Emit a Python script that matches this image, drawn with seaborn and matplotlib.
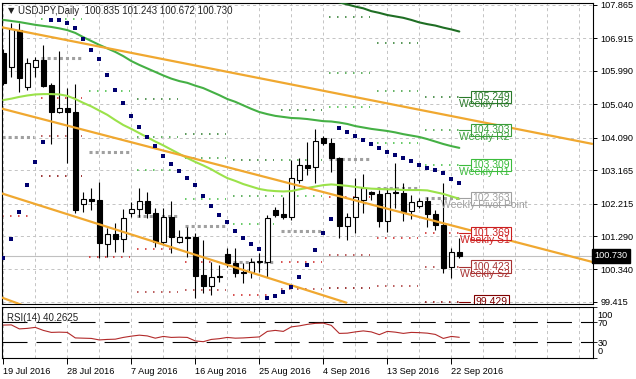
import numpy as np
import pandas as pd
import matplotlib
matplotlib.use("Agg")
import matplotlib.pyplot as plt
import matplotlib.transforms as mtrans
import seaborn as sns

sns.set_theme(style="white")
plt.rcParams['font.family'] = ['Liberation Sans', 'DejaVu Sans']
plt.rcParams['lines.scale_dashes'] = False

# ---------------- data ----------------
date_labels = ["19 Jul 2016", "28 Jul 2016", "7 Aug 2016", "16 Aug 2016",
               "25 Aug 2016", "4 Sep 2016", "13 Sep 2016", "22 Sep 2016"]
price_ticks = [107.865, 106.915, 105.990, 105.040, 104.090,
               103.165, 102.215, 101.290, 100.340, 99.415]

opens = [106.50, 106.11, 107.15, 105.52, 106.11, 106.30, 105.59, 104.83, 104.93, 104.83,
         102.19, 102.34, 102.32, 101.07, 101.35, 101.21, 101.96, 102.05, 102.29, 101.94,
         101.13, 101.82, 101.11, 101.27, 101.26, 100.18, 99.88, 100.16, 100.78, 100.53,
         100.26, 100.28, 100.55, 100.56, 102.03, 101.92, 101.84, 102.89, 103.31, 103.25,
         104.07, 103.93, 103.50, 101.58, 101.82, 102.32, 102.55, 102.48, 101.73, 102.51,
         102.53, 102.00, 102.14, 102.30, 101.92, 101.61, 100.40, 100.835]
highs = [106.60, 107.34, 107.34, 106.35, 106.39, 106.73, 105.65, 106.57, 105.49, 105.62,
         102.55, 102.65, 102.84, 101.51, 101.65, 102.05, 102.27, 102.65, 102.55, 102.08,
         102.08, 102.30, 101.46, 101.56, 101.37, 101.18, 100.56, 100.47, 100.94, 100.94,
         100.52, 100.66, 100.80, 101.89, 102.13, 102.39, 103.45, 103.50, 103.98, 104.33,
         104.13, 104.07, 103.55, 101.94, 102.93, 103.06, 102.56, 102.60, 102.65, 103.36,
         102.79, 102.46, 102.38, 102.41, 102.03, 102.79, 100.94, 101.243]
lows = [105.60, 105.83, 105.40, 105.45, 105.83, 105.54, 103.90, 104.80, 103.36, 101.96,
        101.98, 102.03, 100.66, 100.70, 100.85, 100.85, 101.84, 101.84, 101.80, 100.99,
        101.04, 100.82, 101.08, 100.70, 99.52, 99.66, 99.61, 99.99, 100.42, 100.13,
        99.95, 100.09, 100.28, 100.13, 101.82, 101.77, 101.75, 102.81, 103.03, 102.79,
        103.87, 103.12, 101.23, 101.18, 101.39, 101.96, 102.32, 101.56, 101.41, 102.10,
        101.73, 101.77, 102.10, 101.56, 101.47, 100.23, 100.09, 100.672]
closes = [105.65, 107.17, 105.78, 106.21, 106.30, 105.56, 104.83, 104.93, 104.81, 102.03,
          102.34, 102.30, 101.09, 101.35, 101.20, 101.80, 102.05, 102.29, 101.94, 101.13,
          101.84, 101.26, 101.27, 101.24, 100.16, 99.88, 100.12, 100.13, 100.53, 100.25,
          100.24, 100.56, 100.57, 101.80, 101.89, 101.82, 102.95, 103.31, 103.24, 104.00,
          103.93, 103.50, 101.58, 101.82, 102.40, 102.65, 102.48, 101.73, 102.51, 102.55,
          101.98, 102.27, 102.30, 101.92, 101.61, 100.37, 100.83, 100.730]

ma_slow = [np.nan] * 40 + [108.06, 108.01, 107.94, 107.88, 107.82, 107.77, 107.69, 107.64,
                           107.58, 107.54, 107.50, 107.44, 107.37, 107.32, 107.28, 107.22,
                           107.17, 107.11]
ma_mid = [107.44, 107.41, 107.38, 107.34, 107.30, 107.27, 107.24, 107.20, 107.15, 107.07,
          106.95, 106.84, 106.73, 106.63, 106.53, 106.41, 106.27, 106.16, 106.06, 105.96,
          105.86, 105.77, 105.70, 105.65, 105.57, 105.50, 105.40, 105.30, 105.19, 105.11,
          105.01, 104.91, 104.82, 104.76, 104.71, 104.68, 104.65, 104.64, 104.62, 104.59,
          104.56, 104.55, 104.52, 104.48, 104.42, 104.38, 104.34, 104.31, 104.28, 104.24,
          104.19, 104.15, 104.11, 104.05, 103.98, 103.91, 103.85, 103.80]
ma_fast = [105.16, 105.20, 105.25, 105.29, 105.32, 105.33, 105.33, 105.32, 105.28, 105.19,
           105.08, 104.98, 104.86, 104.74, 104.59, 104.45, 104.34, 104.22, 104.10, 103.98,
           103.87, 103.75, 103.63, 103.51, 103.40, 103.30, 103.19, 103.06, 102.94, 102.86,
           102.77, 102.70, 102.63, 102.59, 102.57, 102.56, 102.57, 102.62, 102.66, 102.70,
           102.74, 102.76, 102.74, 102.72, 102.69, 102.66, 102.64, 102.63, 102.62, 102.62,
           102.60, 102.60, 102.60, 102.59, 102.54, 102.49, 102.42, 102.35]
sar = [100.66, 101.22, 101.98, 102.75, 103.39, 103.96, 107.45, 107.44, 107.35, 107.21,
       106.90, 106.58, 106.32, 105.87, 105.45, 105.08, 104.71, 104.40, 104.11, 103.84,
       103.57, 103.34, 103.14, 102.95, 102.75, 102.43, 102.15, 101.89, 101.68, 101.44,
       101.24, 101.07, 100.92, 99.54, 99.59, 99.71, 99.85, 100.13, 100.47, 100.89,
       101.39, 101.77, 104.36, 104.25, 104.14, 104.02, 103.91, 103.79, 103.69, 103.60,
       103.51, 103.43, 103.31, 103.24, 103.17, 103.08, 102.91, 102.80]
rsi = [64.6, 65.0, 57.0, 58.0, 60.0, 54.0, 50.0, 50.5, 50.0, 39.0,
       38.5, 38.0, 35.0, 36.0, 36.5, 40.0, 42.5, 44.5, 43.0, 38.5,
       42.0, 40.0, 40.5, 40.0, 33.0, 31.5, 36.0, 37.5, 40.0, 38.5,
       39.0, 40.0, 41.0, 52.0, 54.0, 52.0, 61.0, 63.0, 66.0, 68.0,
       68.5, 64.0, 48.0, 48.5, 51.0, 53.0, 51.0, 45.5, 52.0, 50.5,
       48.0, 50.0, 49.5, 48.5, 46.0, 38.0, 42.0, 40.26]

# weekly pivot levels, one value per week (first/last bar of each week)
week_first = [0, 4, 10, 16, 22, 28, 34, 40, 46, 52]
week_last = [3, 9, 15, 21, 27, 33, 39, 45, 51, 57]
nan = np.nan
piv_r3 = [nan, nan, nan, 105.20, 104.20, 103.45, 104.88, 107.53, 106.78, 105.249]
piv_r2 = [nan, nan, nan, 104.10, 103.50, 102.43, 103.45, 105.93, 105.42, 104.303]
piv_r1 = [nan, 107.47, 105.43, 103.18, 102.34, 101.63, 102.43, 104.96, 103.95, 103.309]
piv_p = [104.12, 106.35, 103.67, 101.86, 101.58, 100.54, 101.44, 103.47, 102.65, 102.363]
piv_s1 = [101.87, 105.23, 100.69, 100.91, 100.55, 99.60, 100.55, 102.39, 101.24, 101.369]
piv_s2 = [nan, 104.13, nan, 99.71, 99.77, nan, 99.78, 100.76, 99.87, 100.423]
piv_s3 = [nan, 103.01, nan, nan, nan, nan, nan, 99.80, nan, 99.429]
piv_names = ["Weekly R3", "Weekly R2", "Weekly R1", "Weekly Pivot Point",
             "Weekly S1", "Weekly S2", "Weekly S3"]

# trend lines: (bar, price) end points
trend_lines = [((-0.41, 107.24), (73.7, 103.91)),
               ((-0.41, 104.93), (73.7, 100.55)),
               ((-0.41, 102.52), (42.96, 99.39)),
               ((-0.41, 99.56), (2.7, 99.30))]

title_text = "USDJPY,Daily  100.835 101.243 100.672 100.730"
last_price = 100.730
rsi_title = "RSI(14) 40.2625"

# ---------------- figure ----------------
W, H = 636, 379
fig = plt.figure(figsize=(W / 100, H / 100), dpi=100)
fig.patch.set_facecolor("white")


def rect(l, t, r, b):
    return [l / W, 1 - b / H, (r - l) / W, (b - t) / H]


ax = fig.add_axes(rect(1.7, 2.7, 593.3, 304))
axr = fig.add_axes(rect(1.7, 307.3, 593.3, 357.5))

XMIN, XMAX = -0.2, 73.75
YMIN, YMAX = 99.358, 107.930

df = pd.DataFrame(dict(bar=np.arange(len(opens)), open=opens, high=highs, low=lows,
                       close=closes, ma_slow=ma_slow, ma_mid=ma_mid, ma_fast=ma_fast,
                       sar=sar, rsi=rsi))

grid_kw = dict(color="#c4c4c4", lw=0.7, dashes=(2.2, 2.2), zorder=0)
for a in (ax, axr):
    a.set_facecolor("white")
    for gx in range(0, 76, 4):
        a.axvline(gx, **grid_kw)
for p in price_ticks:
    ax.axhline(p, **grid_kw)

# current price line
ax.axhline(last_price, color="#c0c0c0", lw=0.8, zorder=1)

# candles
ax.vlines(df.bar, df.low, df.high, color="black", lw=0.8, zorder=3)
up = df.close >= df.open
bottom = np.minimum(df.open, df.close)
height = np.maximum((df.close - df.open).abs(), 0.012)
ax.bar(df.bar[up], height[up], bottom=bottom[up], width=0.62, color="white",
       edgecolor="black", linewidth=0.8, zorder=4)
ax.bar(df.bar[~up], height[~up], bottom=bottom[~up], width=0.62, color="black",
       edgecolor="black", linewidth=0.8, zorder=4)

# moving averages
sns.lineplot(data=df, x="bar", y="ma_slow", ax=ax, color="#1f6e24", lw=1.5, zorder=5)
sns.lineplot(data=df, x="bar", y="ma_mid", ax=ax, color="#45b045", lw=1.5, zorder=5)
sns.lineplot(data=df, x="bar", y="ma_fast", ax=ax, color="#9be24a", lw=1.5, zorder=5)

# trend lines
for (x0, y0), (x1, y1) in trend_lines:
    ax.plot([x0, x1], [y0, y1], color="#f0a830", lw=1.6, zorder=5, solid_capstyle="butt")

# parabolic SAR
sns.scatterplot(data=df, x="bar", y="sar", ax=ax, color="#00006e", marker="s", s=5,
                linewidth=0, zorder=6)

# weekly pivots
piv_levels = [piv_r3, piv_r2, piv_r1, piv_p, piv_s1, piv_s2, piv_s3]
piv_colors = ["#2a7a2a", "#3a9e3a", "#3cbc3c", "#a0a0a0", "#cc1f1f", "#a83232", "#800000"]
for lev, col in zip(piv_levels, piv_colors):
    is_p = col == "#a0a0a0"
    for w, v in enumerate(lev):
        if np.isnan(v):
            continue
        x0 = week_first[w] + 0.75 if w > 0 else -0.2
        x1 = week_last[w] + 0.8 if w < len(lev) - 1 else week_last[w]
        if is_p:
            ax.plot([x0, x1], [v, v], color=col, lw=2.2, dashes=(2.2, 2.2), zorder=2)
        else:
            ax.plot([x0, x1], [v, v], color=col, lw=1.1, dashes=(1.1, 4.66), zorder=2)

# labels of the current week's pivots
for lev, col, name in zip(piv_levels, piv_colors, piv_names):
    v = lev[-1]
    ax.plot([week_last[-1], 58.3], [v, v], color=col, lw=0.8, zorder=7, clip_on=True)
    ax.text(61.0, v, f"{v:.3f}", ha="center", va="center", fontsize=7.5, color=col,
            zorder=8, clip_on=True,
            bbox=dict(boxstyle="square,pad=0.12", fc="white", ec=col, lw=0.8))
    ax.text(60.15, v - 0.2, name, ha="center", va="center", fontsize=7.5, color=col,
            zorder=9, clip_on=True)

ax.set_xlim(XMIN, XMAX)
ax.set_ylim(YMIN, YMAX)
ax.set_xlabel("")
ax.set_ylabel("")
ax.set_xticks([])
ax.yaxis.tick_right()
ax.set_yticks(price_ticks)
ax.set_yticklabels([f"{p:.3f}" for p in price_ticks])
ax.tick_params(axis="y", direction="out", length=3, width=0.7, pad=2, labelsize=6.6,
               colors="black", right=True, left=False)
for s in ax.spines.values():
    s.set_color("black")
    s.set_linewidth(0.8)

# last price box on the axis
trans = mtrans.blended_transform_factory(ax.transAxes, ax.transData)
ax.text(1.002, last_price, f"{last_price:.3f}", transform=trans, ha="left", va="center",
        fontsize=6.6, color="white", clip_on=False, zorder=10,
        bbox=dict(boxstyle="square,pad=0.25", fc="black", ec="black"))

# title
fig.text(7.5 / W, 1 - 11 / H, "\u25bc", fontsize=6, family="DejaVu Sans",
         ha="left", va="center", color="#222222")
fig.text(18 / W, 1 - 10.7 / H, title_text, fontsize=7, ha="left", va="center",
         color="#222222")

# ---------------- RSI panel ----------------
sns.lineplot(data=df, x="bar", y="rsi", ax=axr, color="#b22a2a", lw=0.8, zorder=5)
for lvl in (70, 30):
    axr.axhline(lvl, color="black", lw=0.8, dashes=(18, 6.5), zorder=2)
axr.set_xlim(XMIN, XMAX)
axr.set_ylim(0, 100)
axr.set_xlabel("")
axr.set_ylabel("")
axr.set_xticks(list(range(0, 57, 8)))
axr.set_xticklabels(date_labels)
for lbl in axr.get_xticklabels():
    lbl.set_ha("left")
axr.tick_params(axis="x", direction="out", length=4, width=0.7, pad=3, labelsize=6.6,
                colors="black", bottom=True)
axr.yaxis.tick_right()
axr.set_yticks([0, 30, 70, 100])
axr.set_yticklabels([])
axr.tick_params(axis="y", direction="out", length=3, width=0.7, right=True, left=False)
for txt, ypx in (("100", 315), ("70", 323.5), ("30", 343), ("0", 351.5)):
    axr.text(1.0 + 4 / 591.6, (357.5 - ypx) / 50.2, txt, transform=axr.transAxes,
             ha="left", va="center", fontsize=6.6, color="black", clip_on=False)
for s in axr.spines.values():
    s.set_color("black")
    s.set_linewidth(0.8)
axr.text(5 / 591.6, (357.5 - 318) / 50.2, rsi_title, transform=axr.transAxes,
         ha="left", va="center", fontsize=7, color="#222222")

fig.savefig("out.png", dpi=100, facecolor="white")
